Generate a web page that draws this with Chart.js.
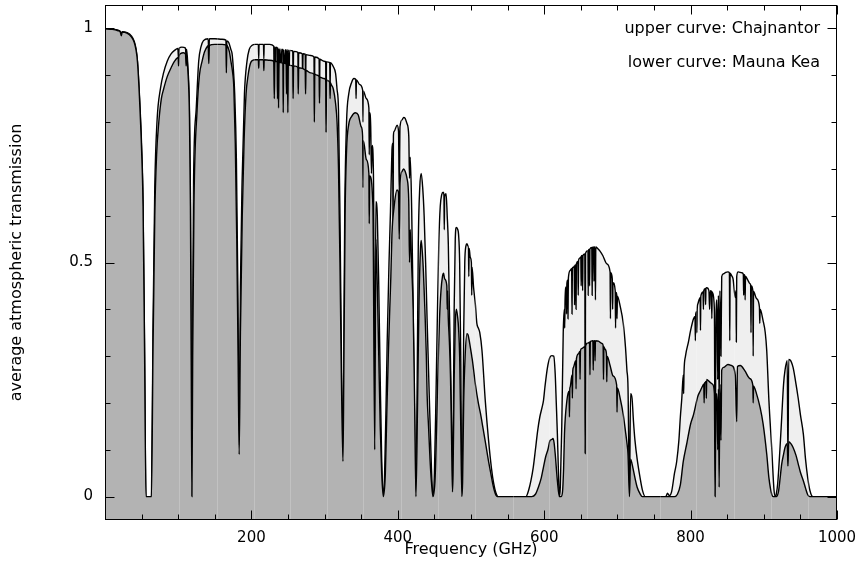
<!DOCTYPE html>
<html>
<head>
<meta charset="utf-8">
<script src="https://cdn.jsdelivr.net/npm/chart.js@4/dist/chart.umd.min.js"></script>
<style>
  html, body { margin: 0; padding: 0; background: #ffffff; }
  canvas { display: block; }
</style>
</head>
<body>
<canvas id="c" width="858" height="569"></canvas>
<script>
// ---- data: [frequency (GHz), average atmospheric transmission] ----
const chajnantorCurve = [
  [0, .999], [10, .998], [18, .996], [21, .993], [22.2, .986], [23.5, .993], [30, .991], [36, .984],
  [40, .972], [42.5, .955], [44.4, .93], [47, .86], [50, .75], [52, .63], [54, .33], [56, 0],
  [63.5, 0], [65.5, .35], [68, .66], [71, .80], [76, .874], [80, .905], [85, .93], [90, .945],
  [95, .953], [99.5, .957], [100.5, .935], [101.5, .958], [105, .96], [110, .958], [110.8, .935], [111.6, .955],
  [113, .925], [115.4, .825], [116.7, .65], [117.8, .3], [118.75, 0], [119.8, .35], [121, .675], [124.5, .825],
  [128, .93], [131, .96], [134.5, .974], [141, .978], [141.8, .935], [142.6, .978], [150, .978], [160, .977],
  [165.2, .975], [165.8, .915], [166.4, .973], [169, .97], [172, .955], [173.6, .946], [175.5, .91], [177.2, .86],
  [179.5, .72], [181.5, .45], [183.3, .11], [185, .45], [187.3, .675], [190.5, .86], [194, .93], [197, .955],
  [201, .964], [205, .966], [209.5, .966], [210, .935], [210.5, .966], [216.5, .966], [217, .935], [217.5, .966],
  [225, .966], [230.5, .962], [231.3, .85], [232, .961], [232.6, .88], [233.3, .960], [235.2, .959], [235.7, .85],
  [236.4, .958], [237.1, .83], [237.8, .957], [238.5, .86], [239.2, .956], [240.5, .88], [241.2, .955], [243, .955],
  [243.5, .82], [244, .955], [245.5, .88], [246.1, .954], [247.5, .954], [248, .87], [248.6, .954], [249.3, .954],
  [249.8, .82], [250.4, .954], [251.5, .89], [252.2, .953], [256.5, .952], [257, .857], [257.6, .951], [263.5, .949],
  [264, .87], [264.6, .948], [269.5, .946], [270, .89], [270.6, .946], [273.5, .945], [274, .87], [274.6, .944],
  [281, .942], [285.5, .939], [286, .80], [286.6, .939], [292.5, .935], [293, .846], [293.6, .934], [299, .93],
  [301.5, .929], [302, .778], [302.6, .929], [305, .928], [307, .927], [307.5, .87], [308, .927], [312, .918],
  [315, .904], [317, .87], [319, .825], [321, .6], [323, .3], [325.1, .083], [326.2, .3], [327.5, .6],
  [330, .8], [333, .86], [337, .885], [340, .893], [342.5, .891], [343, .85], [343.5, .89], [348, .88],
  [352, .868], [352.5, .80], [353, .866], [357, .85], [360.5, .83], [361, .73], [361.6, .82], [363, .79],
  [364, .69], [365, .75], [366.8, .68], [368.5, .10], [370, .63], [372, .6], [374, .45], [376, .25],
  [378, .08], [380.2, 0], [382, .05], [384, .2], [385.5, .33], [388, .5], [390, .61], [392, .74],
  [393, .755], [393.5, .55], [394, .77], [395, .78], [399, .793], [401, .78], [402, .65], [403, .79],
  [406, .805], [408, .81], [410, .808], [412.5, .797], [415, .77], [416, .68], [417, .725], [419, .61],
  [421, .4], [423, .15], [424.8, 0], [426.5, .25], [428, .54], [430, .66], [432, .69], [434, .66],
  [436, .6], [438, .5], [440, .38], [442, .27], [444, .16], [446, .06], [448, 0], [450, .05],
  [452, .2], [454, .38], [456, .54], [458, .62], [460, .645], [462, .65], [463, .645], [463.5, .57],
  [464, .64], [466, .647], [467.5, .6], [469, .54], [470.5, .4], [472, .29], [473.5, .15], [474.7, .01],
  [475.5, .1], [477, .4], [478.5, .55], [480, .575], [482, .57], [483, .56], [484.5, .5], [486, .3],
  [487.5, 0], [488.5, .05], [490, .35], [491.5, .5], [493, .535], [494.5, .54], [496, .535], [496.5, .535],
  [497, .47], [497.5, .53], [499, .511], [500.5, .50], [501, .43], [501.5, .49], [503.5, .447], [506, .41],
  [508, .37], [510, .36], [512, .35], [515, .312], [519.5, .205], [524, .12], [528, .06], [531, .028],
  [534, .008], [537, 0], [575, 0], [579, .015], [582, .035], [585, .062], [588, .1], [591, .14],
  [594, .17], [597, .19], [599, .205], [601, .234], [604.5, .276], [608, .298], [610.5, .301], [613, .30],
  [615, .263], [616.5, .2], [618, .134], [619.5, .05], [620.7, 0], [622, .02], [624, .15], [626, .35],
  [627.5, .40], [628, .36], [628.5, .42], [630, .448], [630.5, .39], [631, .455], [632, .462], [632.5, .38],
  [633, .466], [635.5, .483], [637.5, .487], [638, .39], [638.5, .488], [640, .49], [641, .492], [641.5, .41],
  [642, .493], [643, .495], [643.5, .40], [644, .497], [646, .502], [646.5, .43], [647, .505], [649, .51],
  [650, .512], [650.5, .45], [651, .514], [652, .515], [652.5, .44], [653, .515], [655.5, .518], [656, .092],
  [656.5, .52], [659.5, .525], [660, .43], [660.5, .526], [661.5, .528], [662, .45], [662.5, .529], [665, .532],
  [665.5, .43], [666, .532], [667.5, .533], [668, .46], [668.5, .533], [669.5, .533], [670, .42], [670.5, .533],
  [673, .53], [676, .525], [680, .515], [685.6, .497], [690, .48], [690.5, .38], [691, .478], [693, .465],
  [693.5, .40], [694, .457], [697, .44], [697.5, .36], [698, .436], [699, .432], [699.5, .38], [700, .428],
  [704, .405], [708, .37], [711, .32], [713, .27], [714.5, .233], [716.5, .006], [718, .22], [720, .21],
  [722, .16], [724, .12], [727, .08], [731, .04], [734, .015], [738, 0], [766, 0], [768.5, .007],
  [771, .002], [774, .01], [778, .05], [781, .075], [784, .12], [786, .17], [788, .21], [790, .26],
  [790.5, .22], [791, .265], [793, .3], [797, .33], [800, .355], [804, .38], [806, .385], [806.5, .333],
  [807, .39], [808, .395], [808.5, .35], [809, .4], [810, .412], [813, .425], [813.5, .355], [814, .428],
  [817, .437], [817.5, .40], [818, .44], [820, .444], [820.5, .41], [821, .445], [822, .446], [825, .44],
  [826, .4], [827, .44], [828.5, .438], [829, .38], [829.5, .437], [830, .435], [832.5, .4], [833.5, 0],
  [834.5, .35], [836, .42], [837, .25], [838, .43], [839, .19], [840, .44], [841.5, .30], [842.5, .47],
  [845, .476], [848, .479], [851, .48], [853, .478], [853.5, .333], [854, .477], [856, .472], [858, .465],
  [861, .425], [862, .44], [862.5, .33], [863, .47], [865, .48], [870, .478], [872, .475], [872.5, .43],
  [873, .474], [874, .472], [874.5, .42], [875, .47], [878, .463], [881, .455], [882, .452], [882.5, .35],
  [883, .45], [885, .44], [885.5, .30], [886, .438], [890, .423], [894, .405], [894.5, .37], [895, .4],
  [899, .376], [902, .35], [904, .312], [907, .205], [911, .098], [914, .013], [916, 0], [917, .005],
  [919, .028], [922, .1], [924.5, .17], [927, .24], [929, .27], [932, .29], [933, .065], [934, .293],
  [936, .292], [940, .276], [943, .25], [947, .21], [950, .175], [954, .134], [957, .08], [960, .04],
  [963, .013], [967, 0], [1000, 0]
];

const maunaKeaCurve = [
  [0, .999], [10, .998], [18, .995], [21, .992], [22.2, .984], [23.5, .992], [30, .99], [36, .982],
  [40, .97], [42.5, .953], [44.4, .928], [47, .855], [50, .74], [52, .62], [54, .32], [56, 0],
  [63.5, 0], [65.5, .3], [68, .6], [70.5, .73], [73.5, .80], [77, .85], [80, .87], [85, .897],
  [90, .915], [95, .93], [100, .938], [100.5, .92], [101, .939], [103, .946], [107, .948], [110, .945],
  [110.8, .92], [111.6, .942], [113, .915], [115.4, .81], [116.7, .62], [117.8, .28], [118.75, 0], [119.8, .3],
  [121.5, .62], [125.8, .825], [129, .9], [132.7, .93], [136, .95], [140, .962], [141, .963], [141.8, .925],
  [142.6, .964], [150, .966], [160, .966], [165.2, .965], [165.8, .905], [166.4, .964], [167, .963], [170, .95],
  [172, .93], [174, .91], [176, .874], [178, .754], [180, .55], [181.8, .3], [183.3, .09], [185, .35],
  [187.5, .6], [190, .76], [192.7, .86], [195.5, .9], [198.6, .925], [202, .932], [205, .933], [209.5, .933],
  [210, .915], [210.5, .933], [216.5, .933], [217, .91], [217.5, .933], [225, .932], [230.5, .93], [231.3, .85],
  [232, .93], [235.2, .929], [235.7, .85], [236.4, .929], [237.1, .83], [237.8, .928], [240, .927], [243, .926],
  [243.5, .82], [244, .926], [247.5, .924], [248, .86], [248.6, .924], [249.3, .923], [249.8, .82], [250.4, .923],
  [253, .921], [256.5, .92], [257, .85], [257.6, .92], [263.5, .917], [264, .86], [264.6, .916], [273.5, .911],
  [274, .86], [274.6, .91], [281, .905], [285.5, .902], [286, .80], [286.6, .902], [290, .9], [292.5, .897],
  [293, .84], [293.6, .896], [299, .893], [301.5, .891], [302, .778], [302.6, .89], [305, .888], [307, .885],
  [307.5, .85], [308, .884], [309, .88], [312, .87], [315, .84], [317, .80], [319, .70], [321, .5],
  [323, .25], [325.1, .075], [326.2, .25], [328, .6], [330, .74], [333, .795], [337, .812], [342, .82],
  [346, .815], [350, .79], [352, .77], [352.5, .66], [353, .76], [357, .72], [360.5, .69], [361, .583],
  [361.6, .685], [366, .62], [368.5, .1], [370, .55], [372, .45], [374, .3], [376, .15], [378, .05],
  [380.2, 0], [383, .05], [385, .18], [387, .3], [389, .4], [390.5, .47], [392, .56], [395, .62],
  [399, .655], [401, .65], [402, .55], [403, .67], [406, .695], [408, .70], [410, .695], [412.5, .68],
  [415, .63], [416, .5], [417, .57], [419, .49], [421, .4], [423, .2], [424.8, 0], [427, .2],
  [429, .42], [431, .53], [432, .547], [434, .51], [435, .48], [437, .4], [439, .3], [440, .22],
  [442, .15], [444, .08], [446, .03], [448, 0], [451, .04], [453, .15], [455, .28], [457, .38],
  [459, .44], [461, .47], [462.5, .477], [464, .465], [467, .45], [467.5, .40], [468, .44], [469, .38],
  [470.5, .33], [472, .255], [473.5, .12], [474.7, .01], [475.5, .05], [477, .25], [478.5, .37], [480, .40],
  [482, .38], [483, .36], [484.5, .3], [486, .15], [487.5, 0], [488.5, .03], [490, .2], [492, .3],
  [494.5, .348], [496, .345], [499, .32], [501, .3], [502, .29], [506, .24], [510, .2], [513, .177],
  [516, .15], [520, .113], [524, .075], [527, .05], [530, .025], [533, .007], [536, 0], [583, 0],
  [588, .005], [592, .02], [596, .04], [599, .063], [602, .085], [605, .1], [608, .12], [610.5, .122],
  [612, .124], [613.5, .115], [615, .092], [618, .034], [620.7, 0], [623, 0], [625, .01], [626.5, .06],
  [627.7, .134], [631, .205], [634, .225], [634.5, .17], [635, .23], [635.5, .234], [638, .26], [638.5, .21],
  [639, .268], [640, .276], [643, .29], [643.5, .23], [644, .294], [646.8, .305], [648.5, .31], [649, .25],
  [649.5, .311], [651, .316], [655.5, .32], [656, .092], [656.5, .322], [660, .328], [662, .33], [662.5, .26],
  [663, .331], [664, .332], [666.5, .333], [667, .27], [667.5, .333], [669, .333], [669.5, .29], [670, .333],
  [674, .332], [679, .327], [680.5, .323], [681, .25], [681.5, .32], [683, .315], [685, .305], [685.5, .245],
  [686, .3], [690, .28], [694, .258], [699, .238], [699.5, .18], [700, .232], [704, .208], [708, .175],
  [711, .14], [713, .115], [714.5, .09], [716.5, 0], [718, .08], [720, .07], [724, .04], [727, .02],
  [731, .006], [734, 0], [778, 0], [782, .005], [786, .025], [790, .075], [795, .115], [800, .155],
  [804, .175], [810, .215], [813, .225], [817, .238], [818, .24], [818.5, .2], [819, .242], [820, .244],
  [821, .246], [821.5, .21], [822, .25], [826, .245], [830, .24], [832.5, .22], [833.5, 0], [834.5, .2],
  [836, .22], [837, .1], [838, .23], [839, .02], [840, .24], [841.5, .12], [842.5, .27], [845, .276],
  [851, .282], [856, .28], [861, .26], [863, .16], [864, .278], [868, .28], [874, .269], [881, .252],
  [885, .238], [885.5, .2], [886, .236], [890, .22], [895, .19], [899, .156], [904, .091], [907, .04],
  [911, .004], [913, 0], [917, 0], [920, .01], [922, .035], [924.5, .07], [927, .09], [929, .105],
  [932, .113], [933, .065], [934, .117], [937, .113], [940, .105], [944, .088], [947, .07], [950, .052],
  [954, .034], [957, .018], [960, .004], [963, 0], [1000, 0]
];

const xTickLabels = [200, 400, 600, 800, 1000];
const yTickLabels = [0, 0.5, 1];
const xMinorStep = 50;
const yMinorStep = 0.1;
// faint vertical seams visible in the original rendering (frequency, GHz)
const seamFreqs = [101, 153, 203, 253, 303, 353, 404, 455, 505, 557, 607, 658, 708, 758, 808, 859, 910, 960];

const annotations = ['upper curve: Chajnantor', 'lower curve: Mauna Kea'];

Chart.defaults.font.family = "'DejaVu Sans', sans-serif";
Chart.defaults.color = '#000';

const toPoints = arr => arr.map(p => ({ x: p[0], y: p[1] }));

const framePlugin = {
  id: 'frame',
  afterDatasetsDraw(chart) {
    const ctx = chart.ctx, xs = chart.scales.x, a = chart.chartArea;
    ctx.save();
    ctx.beginPath();
    ctx.rect(a.left, a.top, a.right - a.left, a.bottom - a.top);
    ctx.clip();
    ctx.strokeStyle = 'rgba(255,255,255,0.2)';
    ctx.lineWidth = 1;
    seamFreqs.forEach(f => {
      const px = Math.round(xs.getPixelForValue(f)) + 0.5;
      ctx.beginPath(); ctx.moveTo(px, a.top); ctx.lineTo(px, a.bottom); ctx.stroke();
    });
    ctx.restore();
  },
  afterDraw(chart) {
    const ctx = chart.ctx, xs = chart.scales.x, ys = chart.scales.y, a = chart.chartArea;
    ctx.save();
    ctx.strokeStyle = '#000';
    ctx.lineWidth = 1;
    const L = Math.round(a.left) + 0.5, R = Math.round(a.right) - 0.5;
    const T = Math.round(a.top) + 0.5, B = Math.round(a.bottom) - 0.5;
    ctx.strokeRect(L, T, R - L, B - T);
    const line = (x1, y1, x2, y2) => { ctx.beginPath(); ctx.moveTo(x1, y1); ctx.lineTo(x2, y2); ctx.stroke(); };
    for (let v = xs.min; v <= xs.max + 1e-9; v += xMinorStep) {
      const major = xTickLabels.includes(Math.round(v));
      const len = major ? 9 : 5;
      const px = Math.round(xs.getPixelForValue(v)) + 0.5;
      line(px, B, px, B - len);
      line(px, T, px, T + len);
    }
    for (let i = 0; i <= 10; i++) {
      const v = i * yMinorStep;
      const major = yTickLabels.some(t => Math.abs(t - v) < 1e-6);
      const len = major ? 9 : 5;
      const py = Math.round(ys.getPixelForValue(v)) + 0.5;
      line(L, py, L + len, py);
      line(R, py, R - len, py);
    }
    ctx.fillStyle = '#000';
    ctx.font = "16px 'DejaVu Sans', sans-serif";
    ctx.textAlign = 'right';
    ctx.textBaseline = 'alphabetic';
    const y1 = ys.getPixelForValue(1);
    ctx.fillText(annotations[0], a.right - 17, y1 + 5);
    ctx.fillText(annotations[1], a.right - 17, y1 + 39);
    ctx.restore();
  }
};

new Chart(document.getElementById('c'), {
  type: 'line',
  data: {
    datasets: [
      {
        label: 'Mauna Kea',
        data: toPoints(maunaKeaCurve),
        borderColor: '#000',
        borderWidth: 1.4,
        backgroundColor: '#b3b3b3',
        fill: 'start',
        pointRadius: 0,
        cubicInterpolationMode: 'monotone'
      },
      {
        label: 'Chajnantor',
        data: toPoints(chajnantorCurve),
        borderColor: '#000',
        borderWidth: 1.4,
        backgroundColor: '#efefef',
        fill: 'start',
        pointRadius: 0,
        cubicInterpolationMode: 'monotone'
      }
    ]
  },
  options: {
    responsive: false,
    animation: false,
    events: [],
    layout: { padding: { top: 5, right: 21, left: 0, bottom: 0 } },
    plugins: { legend: { display: false }, tooltip: { enabled: false } },
    scales: {
      x: {
        type: 'linear',
        min: 0,
        max: 1000,
        afterBuildTicks: s => { s.ticks = xTickLabels.map(v => ({ value: v })); },
        afterFit: s => { s.height = 49; s.paddingLeft = 0; s.paddingRight = 0; },
        grid: { display: true, drawOnChartArea: false, drawTicks: true, tickLength: 9, color: 'rgba(0,0,0,0)' },
        border: { display: false },
        ticks: { autoSkip: false, maxRotation: 0, padding: 0, font: { size: 15 }, color: '#000', callback: v => String(v) },
        title: { display: true, text: 'Frequency (GHz)', font: { size: 16 }, color: '#000', padding: { top: 0, bottom: 10 } }
      },
      y: {
        min: -0.05,
        max: 1.05,
        afterBuildTicks: s => { s.ticks = yTickLabels.map(v => ({ value: v })); },
        afterFit: s => { s.width = 105; s.paddingTop = 0; s.paddingBottom = 0; },
        grid: { display: true, drawOnChartArea: false, drawTicks: true, tickLength: 12, color: 'rgba(0,0,0,0)' },
        border: { display: false },
        ticks: { autoSkip: false, padding: 0, font: { size: 15 }, color: '#000', callback: v => String(v) },
        title: { display: true, text: 'average atmospheric transmission', font: { size: 16 }, color: '#000', padding: { top: 7, bottom: 0 } }
      }
    }
  },
  plugins: [framePlugin]
});
</script>
</body>
</html>
